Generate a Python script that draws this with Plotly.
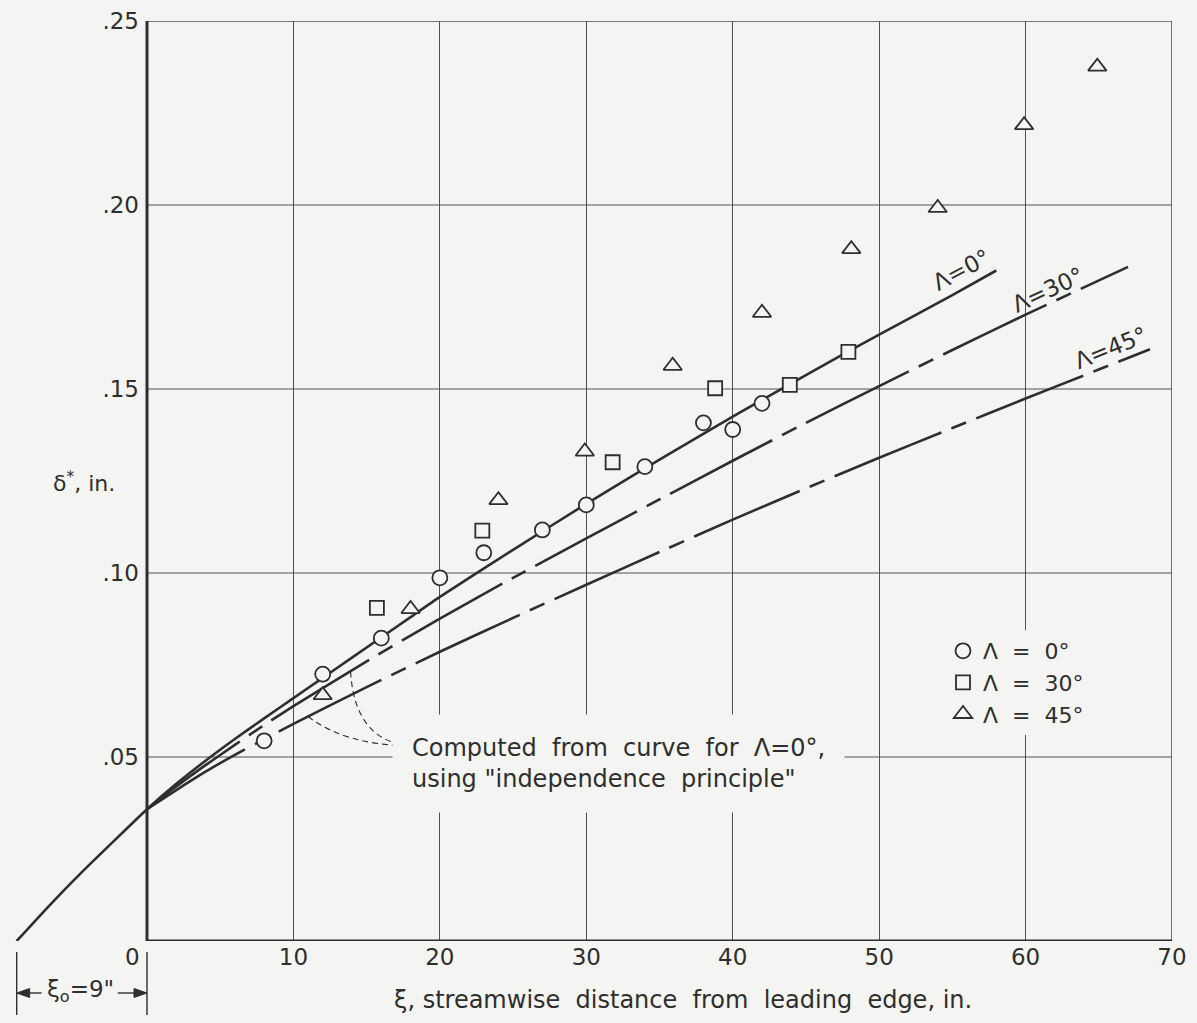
import plotly.graph_objects as go
import numpy as np

# ---------------- data ----------------
# Lambda = 0 deg (solid curve, extended upstream to the virtual origin)
xi_curve0 = [-8.9, -6.7, -4.5, -2.2, 0, 2, 4, 6, 8, 10,
             12, 14, 16, 18, 20, 25, 30, 35, 40, 45, 50, 55, 58]
d_curve0 = [0.0, 0.0095, 0.0185, 0.0274, 0.0358,
            0.0427, 0.0490, 0.0549, 0.0605, 0.0660, 0.0715, 0.0770, 0.0825, 0.0880,
            0.0935, 0.1063, 0.1188, 0.1308, 0.1425, 0.1538, 0.1648, 0.1755, 0.1822]
# Lambda = 30 deg (computed, dash-dot)
xi_curve30 = [0, 2, 4, 6, 8, 10, 15, 20, 25, 30, 35, 40, 45, 50, 55, 60, 67]
d_curve30 = [0.0358, 0.0420, 0.0478, 0.0533, 0.0587, 0.0638, 0.0760, 0.0876, 0.0987,
             0.1094, 0.1200, 0.1305, 0.1408, 0.1508, 0.1606, 0.1702, 0.1832]
# Lambda = 45 deg (computed, dash-dot)
xi_curve45 = [0, 2, 4, 6, 8, 10, 15, 20, 25, 30, 35, 40, 45, 50, 55, 60, 65, 68.5]
d_curve45 = [0.0358, 0.0410, 0.0460, 0.0506, 0.0548, 0.0590, 0.0690, 0.0786, 0.0878,
             0.0968, 0.1057, 0.1145, 0.1230, 0.1313, 0.1394, 0.1474, 0.1553, 0.1608]

# measured points
xi_circ = [8, 12, 16, 20, 23, 27, 30, 34, 38, 40, 42]
d_circ = [0.0544, 0.0725, 0.0823, 0.0987, 0.1055, 0.1117, 0.1185, 0.1289, 0.1408, 0.1390, 0.1461]
xi_sq = [15.7, 22.9, 31.8, 38.8, 43.9, 47.9]
d_sq = [0.0905, 0.1115, 0.1301, 0.1502, 0.1511, 0.1601]
xi_tri = [12, 18, 24, 29.9, 35.9, 42, 48.1, 54, 59.9, 64.9]
d_tri = [0.0668, 0.0902, 0.1198, 0.1330, 0.1563, 0.1707, 0.1880, 0.1992, 0.2217, 0.2376]

x_ticks = [0, 10, 20, 30, 40, 50, 60, 70]
x_ticktext = ["0\u00a0\u00a0\u00a0\u00a0", "10", "20", "30", "40", "50", "60", "70"]
y_ticks = [0.05, 0.10, 0.15, 0.20, 0.25]
y_ticktext = [".05", ".10", ".15", ".20", ".25"]
legend_names = ["\u039b  =  0\u00b0", "\u039b  =  30\u00b0", "\u039b  =  45\u00b0"]

# ---------------- style ----------------
BG = "#f4f4f2"
INK = "#2e2e2e"
GRID = "#505050"
FONT = "DejaVu Sans"

W, H = 1197, 1023
L_PX, R_PX, T_PX, B_PX = 0, 25, 21, 82
X0_PX = 147.0                      # pixel of xi = 0
plot_w = W - L_PX - R_PX
plot_h = H - T_PX - B_PX
px_per_unit = (plot_w - X0_PX) / 70.0
x_min = -X0_PX / px_per_unit

fig = go.Figure()

dashdot = "115px,11px,16px,11px"
fig.add_trace(go.Scatter(x=xi_curve0, y=d_curve0, mode="lines", showlegend=False,
                         line=dict(color=INK, width=2.6, shape="spline", smoothing=0.5)))
fig.add_trace(go.Scatter(x=xi_curve30, y=d_curve30, mode="lines", showlegend=False,
                         line=dict(color=INK, width=2.6, dash=dashdot, shape="spline", smoothing=0.5)))
fig.add_trace(go.Scatter(x=xi_curve45, y=d_curve45, mode="lines", showlegend=False,
                         line=dict(color=INK, width=2.6, dash=dashdot, shape="spline", smoothing=0.5)))

fig.add_trace(go.Scatter(x=xi_circ, y=d_circ, mode="markers", name=legend_names[0],
                         marker=dict(symbol="circle", size=15, color=BG,
                                     line=dict(color=INK, width=1.8))))
fig.add_trace(go.Scatter(x=xi_sq, y=d_sq, mode="markers", name=legend_names[1],
                         marker=dict(symbol="square", size=14, color=BG,
                                     line=dict(color=INK, width=1.8))))
fig.add_trace(go.Scatter(x=xi_tri, y=d_tri, mode="markers", name=legend_names[2],
                         marker=dict(symbol="triangle-up", size=16, color=BG,
                                     line=dict(color=INK, width=1.8))))

shapes = []
# horizontal grid lines (only over the plotted range xi >= 0)
for yv in y_ticks[:-1]:
    shapes.append(dict(type="line", xref="x", yref="y", x0=0, x1=70, y0=yv, y1=yv,
                       line=dict(color=GRID, width=1.2), layer="below"))
# frame: top and right
shapes.append(dict(type="line", xref="x", yref="y", x0=0, x1=70, y0=0.25, y1=0.25,
                   line=dict(color=GRID, width=1.4), layer="below"))
shapes.append(dict(type="line", xref="x", yref="y", x0=70, x1=70, y0=0, y1=0.25,
                   line=dict(color=GRID, width=1.6), layer="below"))
# heavy axes
shapes.append(dict(type="line", xref="x", yref="y", x0=0, x1=0, y0=0, y1=0.25,
                   line=dict(color=INK, width=3)))
shapes.append(dict(type="line", xref="x", yref="y", x0=0, x1=70, y0=0, y1=0,
                   line=dict(color=INK, width=3)))

# leader lines from the note to the computed curves
s30_x = 13.9
s30_y = float(np.interp(s30_x, xi_curve30, d_curve30))
s45_x = 11.0
s45_y = float(np.interp(s45_x, xi_curve45, d_curve45))
end_x, end_y = 18.3, 0.0530
shapes.append(dict(type="path", xref="x", yref="y",
                   path=f"M {s30_x},{s30_y} Q {s30_x + 0.3},{end_y + 0.0005} {end_x},{end_y}",
                   line=dict(color=INK, width=1.1, dash="6px,4px")))
shapes.append(dict(type="path", xref="x", yref="y",
                   path=f"M {s45_x},{s45_y} Q {s45_x + 2.6},{end_y} {end_x},{end_y}",
                   line=dict(color=INK, width=1.1, dash="6px,4px")))


# xi_0 dimension below the axis
def py(px):
    return (H - B_PX - px) / plot_h


x_start = xi_curve0[0]
for xv in (x_start, 0):
    shapes.append(dict(type="line", xref="x", yref="paper", x0=xv, x1=xv,
                       y0=py(952), y1=py(1015), line=dict(color=INK, width=1.4)))

ya = py(993)
head_len = 13 / px_per_unit
half_w = 4.5 / plot_h
# left arrow: tail at -7.2, head at x_start
shapes.append(dict(type="line", xref="x", yref="paper", x0=-7.2, x1=x_start + head_len * 0.5,
                   y0=ya, y1=ya, line=dict(color=INK, width=1.4)))
shapes.append(dict(type="path", xref="x", yref="paper", fillcolor=INK, line=dict(color=INK, width=1),
                   path=f"M {x_start},{ya} L {x_start + head_len},{ya + half_w} "
                        f"L {x_start + head_len},{ya - half_w} Z"))
# right arrow: tail at -2.0, head at 0
shapes.append(dict(type="line", xref="x", yref="paper", x0=-2.0, x1=-head_len * 0.5,
                   y0=ya, y1=ya, line=dict(color=INK, width=1.4)))
shapes.append(dict(type="path", xref="x", yref="paper", fillcolor=INK, line=dict(color=INK, width=1),
                   path=f"M 0,{ya} L {-head_len},{ya + half_w} L {-head_len},{ya - half_w} Z"))

annotations = []
annotations.append(dict(x=-4.55, y=py(991), xref="x", yref="paper", showarrow=False,
                        xanchor="center", yanchor="middle",
                        text="\u03be<sub>o</sub>=9\"", font=dict(size=23, color=INK, family=FONT)))

# axis titles
annotations.append(dict(x=36.6, y=py(1000), xref="x", yref="paper", showarrow=False,
                        xanchor="center", yanchor="middle",
                        text="\u03be, streamwise  distance  from  leading  edge, in.",
                        font=dict(size=24, color=INK, family=FONT)))
annotations.append(dict(x=-4.3, y=0.1247, xref="x", yref="y", showarrow=False,
                        xanchor="center", yanchor="middle",
                        text="\u03b4<sup>*</sup>, in.",
                        font=dict(size=22, color=INK, family=FONT)))

# note
annotations.append(dict(x=16.7, y=0.0482, xref="x", yref="y", xanchor="left", yanchor="middle",
                        showarrow=False, align="left", bgcolor=BG, borderpad=19,
                        text="Computed  from  curve  for  \u039b=0\u00b0,<br>using \"independence  principle\"",
                        font=dict(size=24, color=INK, family=FONT)))

# curve labels
annotations.append(dict(x=55.6, y=0.1823, xref="x", yref="y", showarrow=False, textangle=-28,
                        xanchor="center", yanchor="middle",
                        text="\u039b=0\u00b0", font=dict(size=23, color=INK, family=FONT)))
annotations.append(dict(x=61.5, y=0.1769, xref="x", yref="y", showarrow=False, textangle=-25,
                        xanchor="center", yanchor="middle",
                        text="\u039b=30\u00b0", font=dict(size=23, color=INK, family=FONT)))
annotations.append(dict(x=65.8, y=0.1611, xref="x", yref="y", showarrow=False, textangle=-22,
                        xanchor="center", yanchor="middle",
                        text="\u039b=45\u00b0", font=dict(size=23, color=INK, family=FONT)))

fig.update_layout(
    width=W, height=H,
    margin=dict(l=L_PX, r=R_PX, t=T_PX, b=B_PX, pad=0),
    paper_bgcolor=BG, plot_bgcolor=BG,
    font=dict(family=FONT, color=INK, size=22),
    shapes=shapes, annotations=annotations,
    xaxis=dict(range=[x_min, 70], tickvals=x_ticks, ticktext=x_ticktext,
               showgrid=True, gridcolor=GRID, gridwidth=1.2, zeroline=False,
               showline=False, ticks="", tickfont=dict(size=23, color=INK)),
    yaxis=dict(range=[0, 0.25], anchor="free", position=X0_PX / plot_w,
               tickvals=y_ticks, ticktext=y_ticktext, showgrid=False, zeroline=False,
               showline=False, ticks="", ticklabelstandoff=8,
               tickfont=dict(size=23, color=INK)),
    legend=dict(x=(943 - L_PX) / plot_w, y=py(630), xanchor="left", yanchor="top",
                bgcolor=BG, font=dict(size=22, color=INK, family=FONT),
                itemwidth=30, tracegroupgap=0),
    showlegend=True,
)

fig.write_html("out.html")
